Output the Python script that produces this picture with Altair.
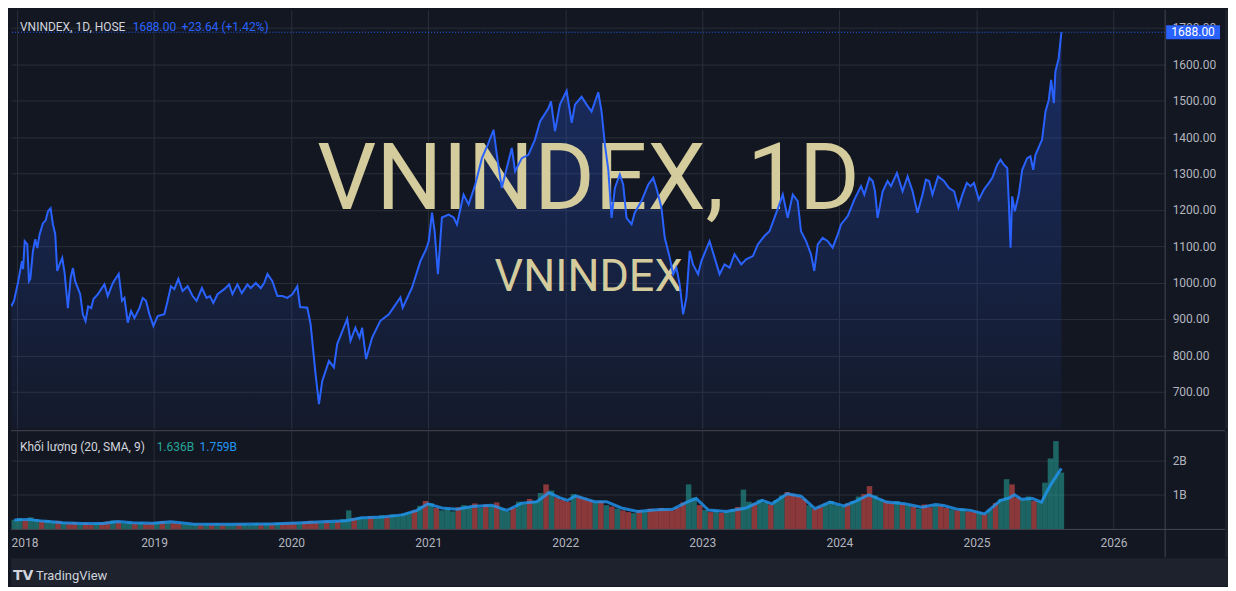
import altair as alt
import pandas as pd

# ---------------- data ----------------
# price: decimal year, close
price_t = [2017.958, 2017.978, 2018.007, 2018.036, 2018.044, 2018.056, 2018.075, 2018.087, 2018.097, 2018.116,
           2018.133, 2018.148, 2018.165, 2018.189, 2018.209, 2018.226, 2018.245, 2018.262, 2018.279, 2018.293,
           2018.311, 2018.330, 2018.347, 2018.371, 2018.391, 2018.408, 2018.424, 2018.444, 2018.461, 2018.480,
           2018.500, 2018.519, 2018.541, 2018.558, 2018.590, 2018.614, 2018.638, 2018.662, 2018.699, 2018.742,
           2018.766, 2018.784, 2018.808, 2018.832, 2018.857, 2018.893, 2018.917, 2018.941, 2018.966, 2018.995,
           2019.026, 2019.075, 2019.099, 2019.123, 2019.148, 2019.177, 2019.208, 2019.245, 2019.281, 2019.310,
           2019.349, 2019.383, 2019.407, 2019.432, 2019.463, 2019.512, 2019.548, 2019.572, 2019.608, 2019.640,
           2019.681, 2019.705, 2019.742, 2019.778, 2019.803, 2019.827, 2019.863, 2019.900, 2019.936, 2019.972,
           2020.009, 2020.045, 2020.065, 2020.118, 2020.142, 2020.178, 2020.203, 2020.227, 2020.276, 2020.312,
           2020.336, 2020.409, 2020.433, 2020.469, 2020.499, 2020.518, 2020.547, 2020.591, 2020.651, 2020.713,
           2020.797, 2020.814, 2020.882, 2020.943, 2020.984, 2021.004, 2021.028, 2021.047, 2021.071, 2021.100,
           2021.149, 2021.186, 2021.210, 2021.258, 2021.295, 2021.343, 2021.392, 2021.435, 2021.477, 2021.501,
           2021.537, 2021.561, 2021.610, 2021.634, 2021.683, 2021.731, 2021.779, 2021.816, 2021.877, 2021.896,
           2021.925, 2021.961, 2022.010, 2022.047, 2022.071, 2022.119, 2022.156, 2022.192, 2022.241, 2022.265,
           2022.289, 2022.314, 2022.338, 2022.362, 2022.398, 2022.423, 2022.447, 2022.484, 2022.507, 2022.556,
           2022.605, 2022.642, 2022.665, 2022.702, 2022.726, 2022.763, 2022.787, 2022.811, 2022.835, 2022.860,
           2022.884, 2022.908, 2022.932, 2022.969, 2022.993, 2023.053, 2023.090, 2023.126, 2023.162, 2023.199,
           2023.235, 2023.284, 2023.320, 2023.369, 2023.405, 2023.453, 2023.490, 2023.526, 2023.562, 2023.587,
           2023.623, 2023.660, 2023.696, 2023.720, 2023.757, 2023.793, 2023.817, 2023.842, 2023.878, 2023.915,
           2023.951, 2023.988, 2024.012, 2024.061, 2024.109, 2024.158, 2024.182, 2024.219, 2024.243, 2024.260,
           2024.279, 2024.316, 2024.352, 2024.376, 2024.420, 2024.461, 2024.498, 2024.534, 2024.570, 2024.607,
           2024.631, 2024.655, 2024.679, 2024.720, 2024.764, 2024.800, 2024.837, 2024.869, 2024.898, 2024.930,
           2024.958, 2024.982, 2025.018, 2025.055, 2025.091, 2025.116, 2025.152, 2025.176, 2025.200, 2025.225,
           2025.236, 2025.249, 2025.261, 2025.280, 2025.309, 2025.334, 2025.370, 2025.394, 2025.414, 2025.431,
           2025.479, 2025.504, 2025.528, 2025.545, 2025.565, 2025.576, 2025.600, 2025.620]
price_v = [935, 950, 1000, 1059, 1037, 1114, 1105, 1004, 1010, 1087,
           1119, 1095, 1133, 1163, 1171, 1196, 1204, 1160, 1133, 1032,
           1051, 1068, 1027, 930, 1013, 1040, 1004, 985, 968, 913,
           894, 935, 930, 955, 968, 982, 995, 963, 999, 1024,
           950, 958, 890, 922, 903, 930, 958, 950, 913, 881,
           908, 913, 950, 990, 982, 1010, 977, 990, 963, 950,
           985, 958, 963, 944, 968, 982, 995, 968, 995, 971,
           995, 985, 999, 985, 999, 1024, 1004, 963, 963, 958,
           968, 990, 933, 931, 886, 749, 666, 730, 785, 767,
           831, 900, 840, 876, 849, 876, 790, 849, 895, 913,
           959, 931, 986, 1059, 1091, 1114, 1192, 1141, 1023, 1179,
           1187, 1179, 1160, 1242, 1215, 1269, 1342, 1379, 1420, 1351,
           1260, 1297, 1370, 1306, 1342, 1351, 1393, 1443, 1479, 1498,
           1416, 1489, 1527, 1439, 1489, 1511, 1489, 1470, 1523, 1470,
           1380, 1310, 1178, 1260, 1297, 1269, 1178, 1160, 1192, 1224,
           1269, 1288, 1260, 1206, 1123, 1068, 1023, 1041, 995, 913,
           959, 1087, 1050, 1023, 1059, 1114, 1068, 1023, 1050, 1041,
           1078, 1050, 1064, 1073, 1105, 1128, 1141, 1178, 1215, 1242,
           1178, 1242, 1224, 1141, 1114, 1078, 1032, 1105, 1123, 1114,
           1096, 1132, 1160, 1183, 1228, 1265, 1242, 1288, 1279, 1251,
           1178, 1251, 1279, 1265, 1301, 1251, 1292, 1251, 1192, 1242,
           1283, 1279, 1242, 1292, 1279, 1260, 1251, 1206, 1242, 1274,
           1265, 1274, 1228, 1256, 1274, 1288, 1324, 1338, 1324, 1315,
           1224, 1096, 1237, 1196, 1242, 1310, 1342, 1347, 1310, 1351,
           1393, 1470, 1502, 1557, 1493, 1580, 1616, 1688]

# volume (billions), one bar every 0.04 year starting 2017.98
vol_b = [0.28, 0.33, 0.26, 0.35, 0.30, 0.24, 0.27, 0.22, 0.25, 0.20,
         0.18, 0.21, 0.16, 0.19, 0.15, 0.17, 0.20, 0.23, 0.26, 0.22,
         0.18, 0.20, 0.17, 0.19, 0.16, 0.18, 0.21, 0.24, 0.20, 0.19,
         0.17, 0.15, 0.14, 0.16, 0.13, 0.15, 0.14, 0.16, 0.13, 0.15,
         0.14, 0.16, 0.15, 0.13, 0.17, 0.15, 0.18, 0.16, 0.19, 0.17,
         0.18, 0.20, 0.17, 0.22, 0.25, 0.21, 0.19, 0.23, 0.21, 0.24,
         0.30, 0.55, 0.33, 0.36, 0.32, 0.38, 0.35, 0.41, 0.37, 0.43,
         0.40, 0.46, 0.50, 0.55, 0.68, 0.82, 0.76, 0.62, 0.55, 0.60,
         0.52, 0.64, 0.70, 0.66, 0.75, 0.63, 0.72, 0.68, 0.78, 0.60,
         0.52, 0.62, 0.80, 0.74, 0.88, 0.82, 1.05, 1.30, 1.12, 0.92,
         0.86, 0.80, 1.02, 0.95, 0.90, 0.84, 0.78, 0.82, 0.70, 0.66,
         0.60, 0.55, 0.50, 0.47, 0.55, 0.52, 0.60, 0.56, 0.62, 0.58,
         0.55, 0.63, 0.78, 1.30, 0.92, 0.70, 0.56, 0.50, 0.54, 0.48,
         0.52, 0.58, 0.65, 1.15, 0.80, 0.75, 0.86, 0.78, 0.72, 0.85,
         0.98, 1.08, 1.02, 0.95, 0.88, 0.70, 0.60, 0.66, 0.74, 0.82,
         0.70, 0.65, 0.75, 0.82, 0.95, 1.02, 1.25, 0.98, 0.86, 0.80,
         0.76, 0.82, 0.74, 0.70, 0.66, 0.60, 0.72, 0.64, 0.70, 0.68,
         0.62, 0.58, 0.55, 0.60, 0.52, 0.50, 0.48, 0.44, 0.58, 0.76,
         0.88, 1.45, 1.30, 0.92, 0.86, 0.95, 0.82, 0.80, 1.35, 2.05, 2.55, 1.64]
vol_dir = ("uuduuduudu" "ddudduddud" "uududdudud" "duuudududu" "uduuududud"
           "ddudddudud" "uuduuduudu" "uuudududuu" "uduudududu" "uduuduudud"
           "ddudddudud" "uddududddd" "ddduududud" "uuduuduudu" "uddddudduu"
           "uuduudduud" "dudududdud" "dududdudud" "uudduuduuuuu")
vol_t0 = 2017.98
vol_step = 0.04

# volume SMA
sma_t = [2017.98, 2018.080, 2018.189, 2018.335, 2018.480, 2018.626, 2018.735, 2018.844, 2018.990, 2019.121,
         2019.281, 2019.572, 2019.849, 2020.082, 2020.227, 2020.402, 2020.518, 2020.664, 2020.809, 2020.918,
         2020.998, 2021.100, 2021.210, 2021.319, 2021.464, 2021.574, 2021.683, 2021.792, 2021.880, 2021.959,
         2022.017, 2022.076, 2022.214, 2022.301, 2022.410, 2022.527, 2022.665, 2022.782, 2022.884, 2022.956,
         2023.044, 2023.175, 2023.320, 2023.437, 2023.509, 2023.618, 2023.720, 2023.822, 2023.931, 2024.033,
         2024.121, 2024.215, 2024.346, 2024.477, 2024.601, 2024.703, 2024.761, 2024.863, 2024.958, 2025.060,
         2025.176, 2025.234, 2025.278, 2025.329, 2025.409, 2025.475, 2025.540, 2025.620]
sma_b = [0.27, 0.29, 0.24, 0.19, 0.17, 0.17, 0.23, 0.19, 0.18, 0.22,
         0.16, 0.15, 0.16, 0.19, 0.22, 0.25, 0.34, 0.36, 0.42, 0.55,
         0.74, 0.62, 0.58, 0.66, 0.70, 0.55, 0.76, 0.80, 1.06, 0.92,
         0.84, 0.97, 0.80, 0.80, 0.62, 0.52, 0.57, 0.58, 0.78, 0.89,
         0.56, 0.52, 0.62, 0.84, 0.74, 1.03, 0.96, 0.60, 0.79, 0.68,
         0.82, 1.00, 0.79, 0.74, 0.64, 0.72, 0.69, 0.58, 0.55, 0.45,
         0.84, 0.90, 1.00, 0.87, 0.89, 0.79, 1.28, 1.76]

year_ticks = [2018, 2019, 2020, 2021, 2022, 2023, 2024, 2025, 2026]
price_ticks = [700, 800, 900, 1000, 1100, 1200, 1300, 1400, 1500, 1600, 1700]
vol_ticks = [1, 2]

symbol_text = "VNINDEX, 1D, HOSE"
last_price = 1688.00
change_text = "+23.64 (+1.42%)"
vol_label = "Khối lượng (20, SMA, 9)"
vol_last_text = "1.636B"
sma_last_text = "1.759B"
wm_title = "VNINDEX, 1D"
wm_sub = "VNINDEX"
brand = "TradingView"

# ---------------- styles ----------------
BG = "#131722"
FRAME = "#1e222d"
GRID = "#2a2e39"
SEP = "#434651"
TXT = "#b2b5be"
LEG = "#d1d4dc"
BLUE = "#2962ff"
GREEN = "#26a69a"
RED = "#ef5350"
SMA_C = "#2196f3"
WM = "#d4cc9c"
FONT = "Roboto"

W = 1157
HP = 420
HV = 99
AXW = 60
TOTAL_W = 1220
Y_MIN, Y_MAX = 598.6, 1749.9

price_df = pd.DataFrame({"t": price_t, "v": price_v})
vol_df = pd.DataFrame({"t": [round(vol_t0 + vol_step * i, 3) for i in range(len(vol_b))],
                       "b": vol_b, "d": list(vol_dir[:len(vol_b)])})
sma_df = pd.DataFrame({"t": sma_t, "s": sma_b})
last_df = pd.DataFrame({"v": [last_price], "label": [f"{last_price:.2f}"]})
one = pd.DataFrame({"k": [0]})

xs = alt.Scale(domain=[2017.956, 2026.377], nice=False, zero=False)
ys = alt.Scale(domain=[Y_MIN, Y_MAX], nice=False, zero=False)
vys = alt.Scale(domain=[0, 2.85], nice=False, zero=True)

x_grid_axis = alt.Axis(values=year_ticks, grid=True, gridColor=GRID, labels=False, ticks=False,
                       domain=False, title=None, minExtent=0, maxExtent=0)
y_price_axis = alt.Axis(orient="right", values=price_ticks, format=".2f", labelColor=TXT,
                        labelFontSize=12, labelFont=FONT, ticks=False, domain=False, labelPadding=7,
                        grid=True, gridColor=GRID, title=None, minExtent=AXW, maxExtent=AXW)
x_bottom_axis = alt.Axis(values=year_ticks, format="d", labelColor=TXT, labelFontSize=12, labelFont=FONT,
                         ticks=False, domain=False, labelPadding=8, grid=True, gridColor=GRID,
                         title=None, minExtent=28, maxExtent=28,
                         labelAlign={"condition": {"test": "datum.value == 2018", "value": "left"},
                                     "value": "center"},
                         labelOffset={"condition": {"test": "datum.value == 2018", "value": -6},
                                      "value": 0})
y_vol_axis = alt.Axis(orient="right", values=vol_ticks, labelExpr="datum.value + 'B'", labelColor=TXT,
                      labelFontSize=12, labelFont=FONT, ticks=False, domain=False, labelPadding=7,
                      grid=True, gridColor=GRID, title=None, minExtent=AXW, maxExtent=AXW)

# ---------------- price pane ----------------
grad = alt.Gradient(gradient="linear",
                    stops=[alt.GradientStop(color="rgba(41,98,255,0.04)", offset=0),
                           alt.GradientStop(color="rgba(41,98,255,0.30)", offset=1)],
                    x1=1, x2=1, y1=1, y2=0)

area = alt.Chart(price_df).mark_area(color=grad, clip=True).encode(
    x=alt.X("t:Q", scale=xs, axis=x_grid_axis),
    y=alt.Y("v:Q", scale=ys, axis=y_price_axis),
    y2=alt.datum(Y_MIN))
wm1 = alt.Chart(pd.DataFrame({"txt": [wm_title]})).mark_text(
    font=FONT, fontSize=93, color=WM, align="center", baseline="alphabetic").encode(
    x=alt.value(579), y=alt.value(200), text="txt:N")
wm2 = alt.Chart(pd.DataFrame({"txt": [wm_sub]})).mark_text(
    font=FONT, fontSize=45, color=WM, align="center", baseline="alphabetic").encode(
    x=alt.value(579), y=alt.value(282), text="txt:N")
line = alt.Chart(price_df).mark_line(color=BLUE, strokeWidth=2, clip=True).encode(x="t:Q", y="v:Q")
last_rule = alt.Chart(last_df).mark_rule(color=BLUE, strokeDash=[1, 2], strokeWidth=1).encode(y="v:Q")
box = alt.Chart(last_df).transform_calculate(hi="datum.v + 19", lo="datum.v - 19").mark_rect(
    color=BLUE).encode(x=alt.value(1158), x2=alt.value(1212), y="hi:Q", y2="lo:Q")
box_txt = alt.Chart(last_df).mark_text(font=FONT, fontSize=12, color="#ffffff", align="center",
                                       baseline="middle").encode(
    x=alt.value(1185), y="v:Q", text="label:N")
leg1 = alt.Chart(pd.DataFrame({"txt": [symbol_text]})).mark_text(
    font=FONT, fontSize=12, color=LEG, align="left", baseline="middle").encode(
    x=alt.value(9), y=alt.value(17), text="txt:N")
leg2 = alt.Chart(last_df).mark_text(
    font=FONT, fontSize=12, color=BLUE, align="left", baseline="middle").encode(
    x=alt.value(122), y=alt.value(17), text="label:N")
leg3 = alt.Chart(pd.DataFrame({"txt": [change_text]})).mark_text(
    font=FONT, fontSize=12, color=BLUE, align="left", baseline="middle").encode(
    x=alt.value(171), y=alt.value(17), text="txt:N")
vsep_p = alt.Chart(one).mark_rule(color=SEP, strokeWidth=1).encode(
    x=alt.value(W), y=alt.value(0), y2=alt.value(HP))
strip_p = alt.Chart(one).mark_rect(color=FRAME).encode(
    x=alt.value(W + AXW), x2=alt.value(TOTAL_W), y=alt.value(0), y2=alt.value(HP))

price_panel = alt.layer(area, wm1, wm2, line, last_rule, vsep_p, box, box_txt, leg1, leg2, leg3,
                        strip_p).properties(width=W, height=HP)

# ---------------- volume pane ----------------
bars = alt.Chart(vol_df).transform_calculate(
    x0="datum.t - 0.02", x1="datum.t + 0.02").mark_bar(opacity=0.55).encode(
    x=alt.X("x0:Q", scale=xs, axis=x_bottom_axis),
    x2="x1:Q",
    y=alt.Y("b:Q", scale=vys, axis=y_vol_axis),
    y2=alt.datum(0),
    color=alt.Color("d:N", scale=alt.Scale(domain=["u", "d"], range=[GREEN, RED]), legend=None))
sma = alt.Chart(sma_df).mark_line(color=SMA_C, strokeWidth=3, opacity=0.8).encode(
    x="t:Q", y="s:Q")
vleg1 = alt.Chart(pd.DataFrame({"txt": [vol_label]})).mark_text(
    font=FONT, fontSize=12, color=LEG, align="left", baseline="middle").encode(
    x=alt.value(9), y=alt.value(16), text="txt:N")
vleg2 = alt.Chart(pd.DataFrame({"txt": [vol_last_text]})).mark_text(
    font=FONT, fontSize=12, color=GREEN, align="left", baseline="middle").encode(
    x=alt.value(146), y=alt.value(16), text="txt:N")
vleg3 = alt.Chart(pd.DataFrame({"txt": [sma_last_text]})).mark_text(
    font=FONT, fontSize=12, color=SMA_C, align="left", baseline="middle").encode(
    x=alt.value(189), y=alt.value(16), text="txt:N")
hsep_top = alt.Chart(one).mark_rule(color=SEP, strokeWidth=1).encode(
    y=alt.value(0), x=alt.value(0), x2=alt.value(W + AXW))
hsep_bot = alt.Chart(one).mark_rule(color=SEP, strokeWidth=1).encode(
    y=alt.value(HV), x=alt.value(0), x2=alt.value(W + AXW))
vsep_v = alt.Chart(one).mark_rule(color=SEP, strokeWidth=1).encode(
    x=alt.value(W), y=alt.value(0), y2=alt.value(HV + 28))
strip_v = alt.Chart(one).mark_rect(color=FRAME).encode(
    x=alt.value(W + AXW), x2=alt.value(TOTAL_W), y=alt.value(0), y2=alt.value(HV + 28))

vol_panel = alt.layer(bars, sma, vleg1, vleg2, vleg3, hsep_top, hsep_bot, vsep_v,
                      strip_v).properties(width=W, height=HV)

# ---------------- footer ----------------
logo = alt.Chart(pd.DataFrame({"txt": ["TV"]})).mark_text(
    font="DejaVu Sans", fontSize=14, fontWeight="bold", color=LEG, align="left",
    baseline="middle").encode(x=alt.value(2), y=alt.value(18), text="txt:N")
brand_txt = alt.Chart(pd.DataFrame({"txt": [brand]})).mark_text(
    font=FONT, fontSize=13, color=LEG, align="left", baseline="middle").encode(
    x=alt.value(25), y=alt.value(18), text="txt:N")
footer = alt.layer(logo, brand_txt).properties(
    width=TOTAL_W, height=28, view=alt.ViewBackground(fill=FRAME, strokeWidth=0))

chart = alt.vconcat(price_panel, vol_panel, footer, spacing=0).properties(padding=0).configure(
    background=BG, font=FONT).configure_view(strokeWidth=0)

chart.save("out.html", embed_options={"renderer": "svg", "actions": False})
